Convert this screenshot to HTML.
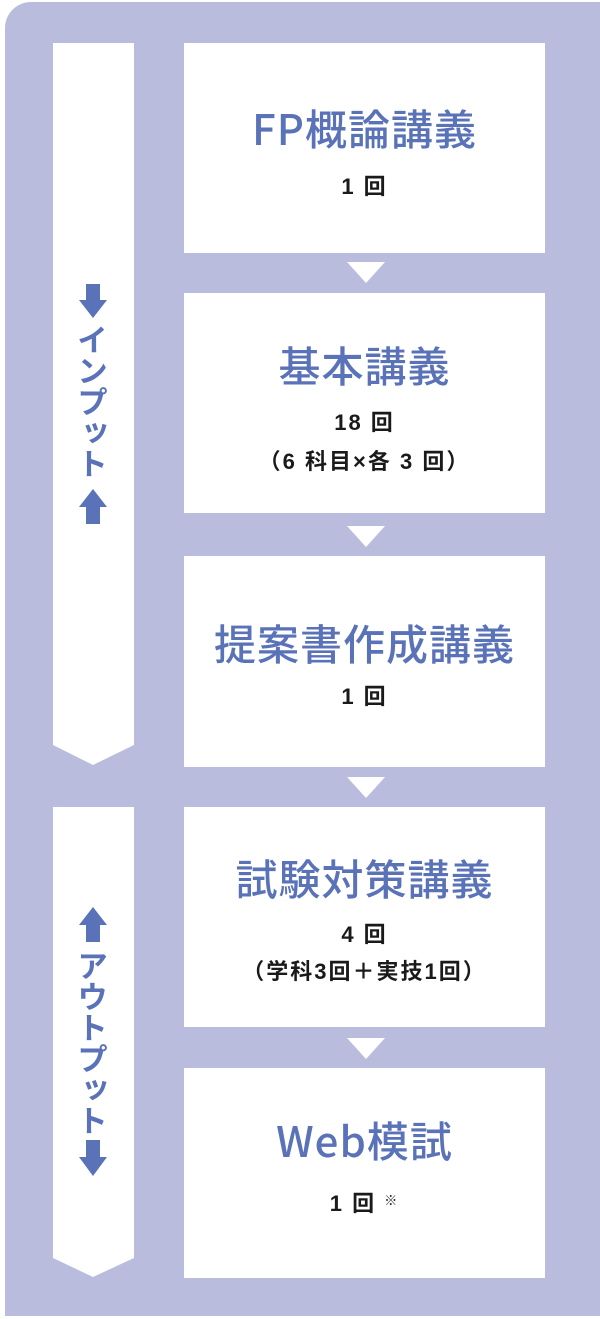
<!DOCTYPE html>
<html><head><meta charset="utf-8"><style>
*{margin:0;padding:0;box-sizing:border-box}
body{width:600px;height:1319px;background:#fff;position:relative;overflow:hidden;font-family:"Liberation Sans","Noto Sans CJK JP",sans-serif}
.bg{position:absolute;left:5px;top:2px;width:600px;height:1314px;background:#B9BCDD;border-top-left-radius:26px}
.box{position:absolute;left:184px;width:361px;background:#fff}
.t{position:absolute;left:0;width:100%;text-align:center;color:#5A72B8;font-size:42px;font-weight:500;line-height:1;font-family:"Noto Sans CJK JP",sans-serif;letter-spacing:1px}
.s{position:absolute;left:0;width:100%;text-align:center;color:#1a1a1a;font-size:22px;font-weight:bold;line-height:1;font-family:"Liberation Sans","Noto Sans CJK JP",sans-serif;letter-spacing:2px}
.vt{position:absolute;writing-mode:vertical-rl;color:#5A72B8;font-size:31px;font-weight:bold;line-height:1;font-family:"Noto Sans CJK JP",sans-serif}
svg{position:absolute;left:0;top:0}
</style></head><body>
<div class="bg"></div>
<svg width="600" height="1319">
<polygon points="53,43 134,43 134,745 93,765 53,745" fill="#fff"/>
<polygon points="53,807 134,807 134,1258 93,1277 53,1258" fill="#fff"/>
<g fill="#fff">
<polygon points="347,262 385,262 366,283"/>
<polygon points="347,526 385,526 366,547"/>
<polygon points="347,777 385,777 366,798"/>
<polygon points="347,1038 385,1038 366,1059"/>
</g>
<g fill="#5A72B8">
<polygon points="86,284 100,284 100,300 107,300 93,318 79,300 86,300"/>
<polygon points="93,489 107,507 100,507 100,524 86,524 86,507 79,507"/>
<polygon points="93,907 107,925 100,925 100,942 86,942 86,925 79,925"/>
<polygon points="86,1140 100,1140 100,1157 107,1157 93,1176 79,1157 86,1157"/>
</g>
</svg>
<div class="vt" style="left:77px;top:324px">インプット</div>
<div class="vt" style="left:77px;top:950px">アウトプット</div>

<div class="box" style="top:43px;height:210px">
<div class="t" style="top:64px">FP概論講義</div>
<div class="s" style="top:133px">1 回</div>
</div>
<div class="box" style="top:293px;height:220px">
<div class="t" style="top:51px">基本講義</div>
<div class="s" style="top:119px">18 回</div>
<div class="s" style="top:158px">（6 科目×各 3 回）</div>
</div>
<div class="box" style="top:556px;height:211px">
<div class="t" style="top:66px">提案書作成講義</div>
<div class="s" style="top:130px">1 回</div>
</div>
<div class="box" style="top:807px;height:220px">
<div class="t" style="top:50px">試験対策講義</div>
<div class="s" style="top:117px">4 回</div>
<div class="s" style="top:154px">（学科3回＋実技1回）</div>
</div>
<div class="box" style="top:1068px;height:210px">
<div class="t" style="top:51px">Web模試</div>
<div class="s" style="top:125px">1 回 <span style="font-size:13px;vertical-align:6px;font-weight:normal">※</span></div>
</div>
</body></html>
